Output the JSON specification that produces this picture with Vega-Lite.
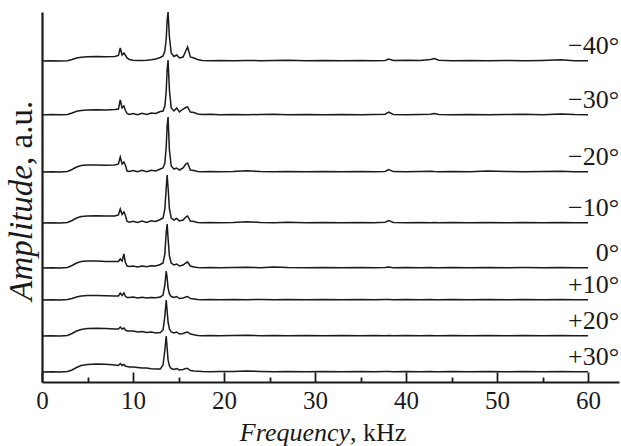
{
  "$schema": "https://vega.github.io/schema/vega-lite/v6.json",
  "width": 577,
  "height": 370,
  "autosize": "none",
  "padding": {"left": 42, "top": 12, "right": 2, "bottom": 64},
  "background": "white",
  "config": {"view": {"stroke": null}},
  "resolve": {"axis": {"x": "independent"}},
  "datasets": {
    "spectra": [
      {"s":"−40°","f":0,"v":321},{"s":"−40°","f":1,"v":321.3},{"s":"−40°","f":2,"v":321},{"s":"−40°","f":2.8,"v":321.3},{"s":"−40°","f":3.3,"v":322.5},{"s":"−40°","f":3.8,"v":324},{"s":"−40°","f":4.3,"v":324.8},{"s":"−40°","f":5,"v":325.2},{"s":"−40°","f":6,"v":325.5},{"s":"−40°","f":7,"v":325.3},{"s":"−40°","f":8,"v":325.5},{"s":"−40°","f":8.4,"v":326.5},{"s":"−40°","f":8.6,"v":334},{"s":"−40°","f":8.8,"v":327},{"s":"−40°","f":9,"v":329},{"s":"−40°","f":9.15,"v":327},{"s":"−40°","f":9.35,"v":324},{"s":"−40°","f":9.6,"v":322.5},{"s":"−40°","f":10,"v":321.8},{"s":"−40°","f":10.5,"v":321.5},{"s":"−40°","f":11,"v":321.6},{"s":"−40°","f":11.5,"v":321.8},{"s":"−40°","f":12,"v":322.2},{"s":"−40°","f":12.5,"v":323},{"s":"−40°","f":13,"v":324.5},{"s":"−40°","f":13.3,"v":326},{"s":"−40°","f":13.5,"v":331},{"s":"−40°","f":13.65,"v":343},{"s":"−40°","f":13.75,"v":361},{"s":"−40°","f":13.85,"v":370},{"s":"−40°","f":14,"v":345},{"s":"−40°","f":14.2,"v":329},{"s":"−40°","f":14.5,"v":325.5},{"s":"−40°","f":14.8,"v":327},{"s":"−40°","f":15.1,"v":324},{"s":"−40°","f":15.5,"v":325},{"s":"−40°","f":15.8,"v":331},{"s":"−40°","f":16,"v":335},{"s":"−40°","f":16.3,"v":325},{"s":"−40°","f":16.7,"v":324},{"s":"−40°","f":17.1,"v":322.5},{"s":"−40°","f":17.6,"v":321.6},{"s":"−40°","f":18.5,"v":321.3},{"s":"−40°","f":19.5,"v":321.5},{"s":"−40°","f":21,"v":321.2},{"s":"−40°","f":22.5,"v":321.6},{"s":"−40°","f":24,"v":321.3},{"s":"−40°","f":25.5,"v":321.5},{"s":"−40°","f":27,"v":321.8},{"s":"−40°","f":29,"v":321.3},{"s":"−40°","f":31,"v":321.6},{"s":"−40°","f":33,"v":321.2},{"s":"−40°","f":35,"v":321.5},{"s":"−40°","f":36.5,"v":321.3},{"s":"−40°","f":37.7,"v":321.6},{"s":"−40°","f":38.1,"v":323},{"s":"−40°","f":38.6,"v":321.5},{"s":"−40°","f":40,"v":321.8},{"s":"−40°","f":41.5,"v":321.4},{"s":"−40°","f":42.7,"v":322.5},{"s":"−40°","f":43.1,"v":323.5},{"s":"−40°","f":43.6,"v":321.8},{"s":"−40°","f":45,"v":321.3},{"s":"−40°","f":47,"v":321.6},{"s":"−40°","f":49,"v":321.2},{"s":"−40°","f":51,"v":321.5},{"s":"−40°","f":53,"v":321.3},{"s":"−40°","f":55,"v":321.6},{"s":"−40°","f":57,"v":322.2},{"s":"−40°","f":58.5,"v":321.3},{"s":"−40°","f":60,"v":321.2},

      {"s":"−30°","f":0,"v":267},{"s":"−30°","f":1,"v":267.4},{"s":"−30°","f":2,"v":267.2},{"s":"−30°","f":2.8,"v":267.5},{"s":"−30°","f":3.3,"v":269},{"s":"−30°","f":3.8,"v":270.8},{"s":"−30°","f":4.3,"v":271.5},{"s":"−30°","f":5,"v":272},{"s":"−30°","f":6,"v":272.2},{"s":"−30°","f":7,"v":272},{"s":"−30°","f":8,"v":272.5},{"s":"−30°","f":8.4,"v":273},{"s":"−30°","f":8.6,"v":282},{"s":"−30°","f":8.8,"v":274},{"s":"−30°","f":9,"v":276},{"s":"−30°","f":9.15,"v":272},{"s":"−30°","f":9.35,"v":268.5},{"s":"−30°","f":9.6,"v":267.5},{"s":"−30°","f":10,"v":268.5},{"s":"−30°","f":10.5,"v":267.3},{"s":"−30°","f":11,"v":268.8},{"s":"−30°","f":11.5,"v":267.6},{"s":"−30°","f":12,"v":269},{"s":"−30°","f":12.5,"v":268.5},{"s":"−30°","f":13,"v":270.5},{"s":"−30°","f":13.3,"v":271},{"s":"−30°","f":13.5,"v":276},{"s":"−30°","f":13.65,"v":291},{"s":"−30°","f":13.75,"v":312},{"s":"−30°","f":13.85,"v":322},{"s":"−30°","f":14,"v":292},{"s":"−30°","f":14.2,"v":274},{"s":"−30°","f":14.5,"v":271},{"s":"−30°","f":14.8,"v":274},{"s":"−30°","f":15.1,"v":270},{"s":"−30°","f":15.5,"v":273},{"s":"−30°","f":15.8,"v":274.5},{"s":"−30°","f":16,"v":275},{"s":"−30°","f":16.3,"v":270},{"s":"−30°","f":16.7,"v":269.5},{"s":"−30°","f":17.1,"v":268},{"s":"−30°","f":17.6,"v":267.5},{"s":"−30°","f":18.5,"v":267.8},{"s":"−30°","f":19.5,"v":267.3},{"s":"−30°","f":21,"v":267.6},{"s":"−30°","f":22.5,"v":267.2},{"s":"−30°","f":24,"v":267.5},{"s":"−30°","f":25.5,"v":267.8},{"s":"−30°","f":27,"v":267.3},{"s":"−30°","f":29,"v":267.6},{"s":"−30°","f":31,"v":267.2},{"s":"−30°","f":33,"v":267.5},{"s":"−30°","f":35,"v":267.3},{"s":"−30°","f":36.5,"v":267.6},{"s":"−30°","f":37.7,"v":267.8},{"s":"−30°","f":38.1,"v":270},{"s":"−30°","f":38.6,"v":267.6},{"s":"−30°","f":40,"v":267.3},{"s":"−30°","f":41.5,"v":267.6},{"s":"−30°","f":42.7,"v":267.8},{"s":"−30°","f":43.1,"v":268.5},{"s":"−30°","f":43.6,"v":267.5},{"s":"−30°","f":45,"v":267.3},{"s":"−30°","f":47,"v":267.6},{"s":"−30°","f":49,"v":267.3},{"s":"−30°","f":51,"v":267.5},{"s":"−30°","f":53,"v":267.8},{"s":"−30°","f":55,"v":267.3},{"s":"−30°","f":57,"v":268},{"s":"−30°","f":58.5,"v":267.4},{"s":"−30°","f":60,"v":267.2},

      {"s":"−20°","f":0,"v":210},{"s":"−20°","f":1,"v":210.3},{"s":"−20°","f":2,"v":210},{"s":"−20°","f":2.8,"v":210.6},{"s":"−20°","f":3.3,"v":212.5},{"s":"−20°","f":3.8,"v":215},{"s":"−20°","f":4.3,"v":216.5},{"s":"−20°","f":5,"v":217},{"s":"−20°","f":6,"v":217},{"s":"−20°","f":7,"v":216.8},{"s":"−20°","f":8,"v":217},{"s":"−20°","f":8.4,"v":218},{"s":"−20°","f":8.6,"v":225},{"s":"−20°","f":8.8,"v":218},{"s":"−20°","f":9,"v":220},{"s":"−20°","f":9.15,"v":217},{"s":"−20°","f":9.35,"v":211},{"s":"−20°","f":9.6,"v":210.5},{"s":"−20°","f":10,"v":211.5},{"s":"−20°","f":10.5,"v":210.2},{"s":"−20°","f":11,"v":211.6},{"s":"−20°","f":11.5,"v":210.3},{"s":"−20°","f":12,"v":211.8},{"s":"−20°","f":12.5,"v":211},{"s":"−20°","f":13,"v":213},{"s":"−20°","f":13.3,"v":214},{"s":"−20°","f":13.5,"v":219},{"s":"−20°","f":13.65,"v":235},{"s":"−20°","f":13.75,"v":256},{"s":"−20°","f":13.85,"v":265},{"s":"−20°","f":14,"v":232},{"s":"−20°","f":14.2,"v":216},{"s":"−20°","f":14.5,"v":213},{"s":"−20°","f":14.8,"v":214},{"s":"−20°","f":15.1,"v":212},{"s":"−20°","f":15.5,"v":214},{"s":"−20°","f":15.8,"v":218},{"s":"−20°","f":16,"v":219},{"s":"−20°","f":16.3,"v":212},{"s":"−20°","f":16.7,"v":211.5},{"s":"−20°","f":17.1,"v":210.5},{"s":"−20°","f":17.6,"v":210.3},{"s":"−20°","f":18.5,"v":210.6},{"s":"−20°","f":19.5,"v":210.2},{"s":"−20°","f":21,"v":210.5},{"s":"−20°","f":22.5,"v":211.2},{"s":"−20°","f":24,"v":210.4},{"s":"−20°","f":25.5,"v":210.3},{"s":"−20°","f":27,"v":210.6},{"s":"−20°","f":29,"v":210.2},{"s":"−20°","f":31,"v":210.5},{"s":"−20°","f":33,"v":210.3},{"s":"−20°","f":35,"v":210.6},{"s":"−20°","f":36.5,"v":210.2},{"s":"−20°","f":37.7,"v":210.6},{"s":"−20°","f":38.1,"v":212.5},{"s":"−20°","f":38.6,"v":210.4},{"s":"−20°","f":40,"v":210.2},{"s":"−20°","f":41.5,"v":210.5},{"s":"−20°","f":42.7,"v":210.8},{"s":"−20°","f":43.1,"v":210.5},{"s":"−20°","f":43.6,"v":210.3},{"s":"−20°","f":45,"v":210.6},{"s":"−20°","f":47,"v":210.2},{"s":"−20°","f":49,"v":211},{"s":"−20°","f":51,"v":210.4},{"s":"−20°","f":53,"v":210.3},{"s":"−20°","f":55,"v":210.5},{"s":"−20°","f":57,"v":210.8},{"s":"−20°","f":58.5,"v":210.3},{"s":"−20°","f":60,"v":210.2},

      {"s":"−10°","f":0,"v":159},{"s":"−10°","f":1,"v":159.3},{"s":"−10°","f":2,"v":159.1},{"s":"−10°","f":2.8,"v":159.6},{"s":"−10°","f":3.3,"v":161.5},{"s":"−10°","f":3.8,"v":164},{"s":"−10°","f":4.3,"v":165.5},{"s":"−10°","f":5,"v":166},{"s":"−10°","f":6,"v":166.2},{"s":"−10°","f":7,"v":166},{"s":"−10°","f":8,"v":166},{"s":"−10°","f":8.4,"v":167},{"s":"−10°","f":8.6,"v":173},{"s":"−10°","f":8.8,"v":167.5},{"s":"−10°","f":9,"v":170},{"s":"−10°","f":9.15,"v":167},{"s":"−10°","f":9.35,"v":160.5},{"s":"−10°","f":9.6,"v":159.8},{"s":"−10°","f":10,"v":160.8},{"s":"−10°","f":10.5,"v":159.5},{"s":"−10°","f":11,"v":161},{"s":"−10°","f":11.5,"v":159.6},{"s":"−10°","f":12,"v":161.2},{"s":"−10°","f":12.5,"v":160.5},{"s":"−10°","f":13,"v":162.5},{"s":"−10°","f":13.3,"v":164},{"s":"−10°","f":13.5,"v":173},{"s":"−10°","f":13.65,"v":194},{"s":"−10°","f":13.75,"v":207},{"s":"−10°","f":13.85,"v":195},{"s":"−10°","f":14,"v":173},{"s":"−10°","f":14.2,"v":164},{"s":"−10°","f":14.5,"v":162},{"s":"−10°","f":14.8,"v":163.5},{"s":"−10°","f":15.1,"v":161},{"s":"−10°","f":15.5,"v":162},{"s":"−10°","f":15.8,"v":165},{"s":"−10°","f":16,"v":166},{"s":"−10°","f":16.3,"v":161},{"s":"−10°","f":16.7,"v":160.5},{"s":"−10°","f":17.1,"v":159.5},{"s":"−10°","f":17.6,"v":159.3},{"s":"−10°","f":18.5,"v":159.6},{"s":"−10°","f":19.5,"v":159.3},{"s":"−10°","f":21,"v":159.5},{"s":"−10°","f":22.5,"v":160.3},{"s":"−10°","f":24,"v":159.5},{"s":"−10°","f":25.5,"v":159.3},{"s":"−10°","f":27,"v":159.8},{"s":"−10°","f":29,"v":159.3},{"s":"−10°","f":31,"v":159.5},{"s":"−10°","f":33,"v":159.2},{"s":"−10°","f":35,"v":159.6},{"s":"−10°","f":36.5,"v":159.3},{"s":"−10°","f":37.7,"v":159.8},{"s":"−10°","f":38.1,"v":161.5},{"s":"−10°","f":38.6,"v":159.5},{"s":"−10°","f":40,"v":159.3},{"s":"−10°","f":41.5,"v":159.6},{"s":"−10°","f":42.7,"v":159.3},{"s":"−10°","f":43.1,"v":159.5},{"s":"−10°","f":43.6,"v":159.2},{"s":"−10°","f":45,"v":159.6},{"s":"−10°","f":47,"v":159.3},{"s":"−10°","f":49,"v":159.5},{"s":"−10°","f":51,"v":159.2},{"s":"−10°","f":53,"v":159.5},{"s":"−10°","f":55,"v":159.3},{"s":"−10°","f":57,"v":159.6},{"s":"−10°","f":58.5,"v":159.2},{"s":"−10°","f":60,"v":159.2},

      {"s":"0°","f":0,"v":114},{"s":"0°","f":1,"v":114.3},{"s":"0°","f":2,"v":114},{"s":"0°","f":2.8,"v":114.5},{"s":"0°","f":3.3,"v":116.5},{"s":"0°","f":3.8,"v":119},{"s":"0°","f":4.3,"v":120.5},{"s":"0°","f":5,"v":121},{"s":"0°","f":6,"v":121},{"s":"0°","f":7,"v":120.5},{"s":"0°","f":8,"v":120.5},{"s":"0°","f":8.4,"v":120.5},{"s":"0°","f":8.6,"v":123},{"s":"0°","f":8.8,"v":121},{"s":"0°","f":9,"v":128},{"s":"0°","f":9.15,"v":120},{"s":"0°","f":9.35,"v":116},{"s":"0°","f":9.6,"v":115.5},{"s":"0°","f":10,"v":116},{"s":"0°","f":10.5,"v":115},{"s":"0°","f":11,"v":116},{"s":"0°","f":11.5,"v":115.2},{"s":"0°","f":12,"v":116.3},{"s":"0°","f":12.5,"v":116},{"s":"0°","f":13,"v":117.5},{"s":"0°","f":13.3,"v":119},{"s":"0°","f":13.5,"v":128},{"s":"0°","f":13.65,"v":150},{"s":"0°","f":13.75,"v":158},{"s":"0°","f":13.85,"v":144},{"s":"0°","f":14,"v":126},{"s":"0°","f":14.2,"v":119},{"s":"0°","f":14.5,"v":117},{"s":"0°","f":14.8,"v":118},{"s":"0°","f":15.1,"v":116},{"s":"0°","f":15.5,"v":117},{"s":"0°","f":15.8,"v":119},{"s":"0°","f":16,"v":120},{"s":"0°","f":16.3,"v":116},{"s":"0°","f":16.7,"v":115},{"s":"0°","f":17.1,"v":114.5},{"s":"0°","f":17.6,"v":114.3},{"s":"0°","f":18.5,"v":114.5},{"s":"0°","f":19.5,"v":114.2},{"s":"0°","f":21,"v":114.5},{"s":"0°","f":22.5,"v":114.8},{"s":"0°","f":24,"v":114.3},{"s":"0°","f":25.5,"v":115},{"s":"0°","f":27,"v":114.4},{"s":"0°","f":29,"v":114.2},{"s":"0°","f":31,"v":114.5},{"s":"0°","f":33,"v":114.3},{"s":"0°","f":35,"v":114.5},{"s":"0°","f":36.5,"v":114.2},{"s":"0°","f":37.7,"v":114.5},{"s":"0°","f":38.1,"v":115},{"s":"0°","f":38.6,"v":114.3},{"s":"0°","f":40,"v":114.5},{"s":"0°","f":41.5,"v":114.2},{"s":"0°","f":42.7,"v":114.5},{"s":"0°","f":43.1,"v":114.3},{"s":"0°","f":43.6,"v":114.2},{"s":"0°","f":45,"v":114.5},{"s":"0°","f":47,"v":114.3},{"s":"0°","f":49,"v":114.5},{"s":"0°","f":51,"v":114.2},{"s":"0°","f":53,"v":114.4},{"s":"0°","f":55,"v":114.3},{"s":"0°","f":57,"v":114.5},{"s":"0°","f":58.5,"v":114.2},{"s":"0°","f":60,"v":114.2},

      {"s":"+10°","f":0,"v":82},{"s":"+10°","f":1,"v":82.2},{"s":"+10°","f":2,"v":82},{"s":"+10°","f":2.8,"v":82.4},{"s":"+10°","f":3.3,"v":83.5},{"s":"+10°","f":3.8,"v":85},{"s":"+10°","f":4.3,"v":86},{"s":"+10°","f":5,"v":86.5},{"s":"+10°","f":6,"v":86.5},{"s":"+10°","f":7,"v":86.2},{"s":"+10°","f":8,"v":86},{"s":"+10°","f":8.4,"v":86},{"s":"+10°","f":8.6,"v":89},{"s":"+10°","f":8.8,"v":86.5},{"s":"+10°","f":9,"v":89},{"s":"+10°","f":9.15,"v":86},{"s":"+10°","f":9.35,"v":84.5},{"s":"+10°","f":9.6,"v":84.5},{"s":"+10°","f":10,"v":85},{"s":"+10°","f":10.5,"v":84},{"s":"+10°","f":11,"v":84.8},{"s":"+10°","f":11.5,"v":84},{"s":"+10°","f":12,"v":84.5},{"s":"+10°","f":12.5,"v":84.2},{"s":"+10°","f":13,"v":85},{"s":"+10°","f":13.3,"v":87},{"s":"+10°","f":13.5,"v":97},{"s":"+10°","f":13.65,"v":111},{"s":"+10°","f":13.75,"v":104},{"s":"+10°","f":13.85,"v":94},{"s":"+10°","f":14,"v":88},{"s":"+10°","f":14.2,"v":85.5},{"s":"+10°","f":14.5,"v":84.5},{"s":"+10°","f":14.8,"v":85.5},{"s":"+10°","f":15.1,"v":83.5},{"s":"+10°","f":15.5,"v":84},{"s":"+10°","f":15.8,"v":85},{"s":"+10°","f":16,"v":85.5},{"s":"+10°","f":16.3,"v":83.5},{"s":"+10°","f":16.7,"v":83},{"s":"+10°","f":17.1,"v":82.5},{"s":"+10°","f":17.6,"v":82.3},{"s":"+10°","f":18.5,"v":82.5},{"s":"+10°","f":19.5,"v":82.2},{"s":"+10°","f":21,"v":82.5},{"s":"+10°","f":22.5,"v":82.3},{"s":"+10°","f":24,"v":82.5},{"s":"+10°","f":25.5,"v":82.2},{"s":"+10°","f":27,"v":82.5},{"s":"+10°","f":29,"v":82.3},{"s":"+10°","f":31,"v":82.5},{"s":"+10°","f":33,"v":82.2},{"s":"+10°","f":35,"v":82.4},{"s":"+10°","f":36.5,"v":82.2},{"s":"+10°","f":37.7,"v":82.5},{"s":"+10°","f":38.1,"v":82.6},{"s":"+10°","f":38.6,"v":82.3},{"s":"+10°","f":40,"v":82.5},{"s":"+10°","f":41.5,"v":82.2},{"s":"+10°","f":42.7,"v":82.5},{"s":"+10°","f":43.1,"v":82.3},{"s":"+10°","f":43.6,"v":82.2},{"s":"+10°","f":45,"v":82.5},{"s":"+10°","f":47,"v":82.2},{"s":"+10°","f":49,"v":82.5},{"s":"+10°","f":51,"v":82.3},{"s":"+10°","f":53,"v":82.5},{"s":"+10°","f":55,"v":82.2},{"s":"+10°","f":57,"v":82.5},{"s":"+10°","f":58.5,"v":82.3},{"s":"+10°","f":60,"v":82.2},

      {"s":"+20°","f":0,"v":46},{"s":"+20°","f":1,"v":46.3},{"s":"+20°","f":2,"v":46},{"s":"+20°","f":2.8,"v":46.5},{"s":"+20°","f":3.3,"v":48.5},{"s":"+20°","f":3.8,"v":51},{"s":"+20°","f":4.3,"v":52.5},{"s":"+20°","f":5,"v":53.5},{"s":"+20°","f":6,"v":53.8},{"s":"+20°","f":7,"v":53.5},{"s":"+20°","f":8,"v":53},{"s":"+20°","f":8.4,"v":53},{"s":"+20°","f":8.6,"v":55},{"s":"+20°","f":8.8,"v":53},{"s":"+20°","f":9,"v":54},{"s":"+20°","f":9.15,"v":52},{"s":"+20°","f":9.35,"v":51},{"s":"+20°","f":9.6,"v":51},{"s":"+20°","f":10,"v":51},{"s":"+20°","f":10.5,"v":50},{"s":"+20°","f":11,"v":50.5},{"s":"+20°","f":11.5,"v":49.5},{"s":"+20°","f":12,"v":50},{"s":"+20°","f":12.5,"v":49},{"s":"+20°","f":13,"v":49.5},{"s":"+20°","f":13.3,"v":52},{"s":"+20°","f":13.5,"v":66},{"s":"+20°","f":13.65,"v":82},{"s":"+20°","f":13.75,"v":71},{"s":"+20°","f":13.85,"v":60},{"s":"+20°","f":14,"v":53},{"s":"+20°","f":14.2,"v":50},{"s":"+20°","f":14.5,"v":49},{"s":"+20°","f":14.8,"v":50},{"s":"+20°","f":15.1,"v":48},{"s":"+20°","f":15.5,"v":48.5},{"s":"+20°","f":15.8,"v":49.5},{"s":"+20°","f":16,"v":50},{"s":"+20°","f":16.3,"v":48},{"s":"+20°","f":16.7,"v":47.2},{"s":"+20°","f":17.1,"v":46.6},{"s":"+20°","f":17.6,"v":46.3},{"s":"+20°","f":18.5,"v":46.5},{"s":"+20°","f":19.5,"v":46.2},{"s":"+20°","f":21,"v":46.5},{"s":"+20°","f":22.5,"v":46.8},{"s":"+20°","f":24,"v":46.3},{"s":"+20°","f":25.5,"v":46.5},{"s":"+20°","f":27,"v":46.2},{"s":"+20°","f":29,"v":46.5},{"s":"+20°","f":31,"v":46.3},{"s":"+20°","f":33,"v":46.5},{"s":"+20°","f":35,"v":46.2},{"s":"+20°","f":36.5,"v":46.4},{"s":"+20°","f":37.7,"v":46.3},{"s":"+20°","f":38.1,"v":46.6},{"s":"+20°","f":38.6,"v":46.3},{"s":"+20°","f":40,"v":46.5},{"s":"+20°","f":41.5,"v":46.2},{"s":"+20°","f":42.7,"v":46.5},{"s":"+20°","f":43.1,"v":46.3},{"s":"+20°","f":43.6,"v":46.2},{"s":"+20°","f":45,"v":46.5},{"s":"+20°","f":47,"v":46.3},{"s":"+20°","f":49,"v":46.5},{"s":"+20°","f":51,"v":46.2},{"s":"+20°","f":53,"v":46.5},{"s":"+20°","f":55,"v":46.3},{"s":"+20°","f":57,"v":46.6},{"s":"+20°","f":58.5,"v":46.2},{"s":"+20°","f":60,"v":46.2},

      {"s":"+30°","f":0,"v":10},{"s":"+30°","f":1,"v":10.3},{"s":"+30°","f":2,"v":10},{"s":"+30°","f":2.8,"v":10.5},{"s":"+30°","f":3.3,"v":12},{"s":"+30°","f":3.8,"v":14.5},{"s":"+30°","f":4.3,"v":16.5},{"s":"+30°","f":5,"v":17.5},{"s":"+30°","f":6,"v":18},{"s":"+30°","f":7,"v":17.8},{"s":"+30°","f":8,"v":17},{"s":"+30°","f":8.4,"v":16.5},{"s":"+30°","f":8.6,"v":18.5},{"s":"+30°","f":8.8,"v":16.5},{"s":"+30°","f":9,"v":17.5},{"s":"+30°","f":9.15,"v":16},{"s":"+30°","f":9.35,"v":15.5},{"s":"+30°","f":9.6,"v":15},{"s":"+30°","f":10,"v":15},{"s":"+30°","f":10.5,"v":14.5},{"s":"+30°","f":11,"v":14},{"s":"+30°","f":11.5,"v":14},{"s":"+30°","f":12,"v":13.2},{"s":"+30°","f":12.5,"v":13},{"s":"+30°","f":13,"v":13},{"s":"+30°","f":13.3,"v":17},{"s":"+30°","f":13.5,"v":32},{"s":"+30°","f":13.65,"v":46},{"s":"+30°","f":13.75,"v":34},{"s":"+30°","f":13.85,"v":22},{"s":"+30°","f":14,"v":16},{"s":"+30°","f":14.2,"v":13.5},{"s":"+30°","f":14.5,"v":12.5},{"s":"+30°","f":14.8,"v":13.5},{"s":"+30°","f":15.1,"v":12},{"s":"+30°","f":15.5,"v":12.5},{"s":"+30°","f":15.8,"v":13.5},{"s":"+30°","f":16,"v":13.5},{"s":"+30°","f":16.3,"v":11.5},{"s":"+30°","f":16.7,"v":11},{"s":"+30°","f":17.1,"v":10.8},{"s":"+30°","f":17.6,"v":10.5},{"s":"+30°","f":18.5,"v":10.3},{"s":"+30°","f":19.5,"v":10.5},{"s":"+30°","f":21,"v":10.6},{"s":"+30°","f":22.5,"v":11},{"s":"+30°","f":24,"v":10.5},{"s":"+30°","f":25.5,"v":10.3},{"s":"+30°","f":27,"v":10.5},{"s":"+30°","f":29,"v":10.2},{"s":"+30°","f":31,"v":10.5},{"s":"+30°","f":33,"v":10.3},{"s":"+30°","f":35,"v":10.5},{"s":"+30°","f":36.5,"v":10.2},{"s":"+30°","f":37.7,"v":10.5},{"s":"+30°","f":38.1,"v":10.6},{"s":"+30°","f":38.6,"v":10.3},{"s":"+30°","f":40,"v":10.5},{"s":"+30°","f":41.5,"v":10.2},{"s":"+30°","f":42.7,"v":10.5},{"s":"+30°","f":43.1,"v":10.3},{"s":"+30°","f":43.6,"v":10.2},{"s":"+30°","f":45,"v":10.5},{"s":"+30°","f":47,"v":10.3},{"s":"+30°","f":49,"v":10.5},{"s":"+30°","f":51,"v":10.2},{"s":"+30°","f":53,"v":10.5},{"s":"+30°","f":55,"v":10.3},{"s":"+30°","f":57,"v":10.6},{"s":"+30°","f":58.5,"v":10.2},{"s":"+30°","f":60,"v":10.2}
    ]
  },
  "layer": [
    {
      "data": {"name": "spectra"},
      "mark": {"type": "line", "stroke": "#1a1a1a", "strokeWidth": 1.5, "interpolate": "linear"},
      "encoding": {
        "x": {
          "field": "f", "type": "quantitative",
          "scale": {"domain": [0, 63.4], "nice": false, "zero": false},
          "axis": {
            "orient": "bottom",
            "title": null,
            "values": [0, 10, 20, 30, 40, 50, 60],
            "tickSize": -10,
            "tickWidth": 1.8, "tickColor": "#1a1a1a",
            "domainWidth": 2.2, "domainColor": "#1a1a1a",
            "grid": false,
            "labelFont": "Liberation Serif", "labelFontSize": 25, "labelColor": "#1a1a1a",
            "labelPadding": 16, "labelFlush": false, "labelOverlap": false
          }
        },
        "y": {
          "field": "v", "type": "quantitative",
          "scale": {"domain": [0, 370], "nice": false, "zero": false},
          "axis": {"title": null, "labels": false, "ticks": false, "grid": false, "domainWidth": 2.2, "domainColor": "#1a1a1a"}
        },
        "detail": {"field": "s", "type": "nominal"}
      }
    },
    {
      "data": {"name": "spectra"},
      "transform": [{"filter": "datum.f == 60"}],
      "mark": {"type": "text", "align": "right", "baseline": "alphabetic", "dx": 31, "dy": -7, "font": "Liberation Serif", "fontSize": 26, "color": "#1a1a1a"},
      "encoding": {
        "x": {
          "field": "f", "type": "quantitative",
          "axis": {
            "orient": "bottom", "title": null, "labels": false, "domain": false, "grid": false,
            "values": [5, 15, 25, 35, 45, 55],
            "tickSize": -5, "tickWidth": 1.8, "tickColor": "#1a1a1a"
          }
        },
        "y": {"field": "v", "type": "quantitative"},
        "text": {"field": "s", "type": "nominal"}
      }
    },
    {
      "data": {"values": [{}]},
      "mark": {"type": "text", "align": "right", "baseline": "alphabetic", "font": "Liberation Serif", "fontStyle": "italic", "fontSize": 26, "color": "#1a1a1a", "text": "Frequency"},
      "encoding": {
        "x": {"datum": 33.85, "type": "quantitative", "axis": null},
        "y": {"datum": -59, "type": "quantitative"}
      }
    },
    {
      "data": {"values": [{}]},
      "mark": {"type": "text", "align": "left", "baseline": "alphabetic", "font": "Liberation Serif", "fontSize": 26, "color": "#1a1a1a", "text": ", kHz"},
      "encoding": {
        "x": {"datum": 33.85, "type": "quantitative", "axis": null},
        "y": {"datum": -59, "type": "quantitative"}
      }
    },
    {
      "data": {"values": [{}]},
      "mark": {"type": "text", "align": "right", "baseline": "alphabetic", "angle": 270, "font": "Liberation Serif", "fontStyle": "italic", "fontSize": 33, "color": "#1a1a1a", "text": "Amplitude"},
      "encoding": {
        "x": {"datum": -1.1, "type": "quantitative", "axis": null},
        "y": {"datum": 217, "type": "quantitative"}
      }
    },
    {
      "data": {"values": [{}]},
      "mark": {"type": "text", "align": "left", "baseline": "alphabetic", "angle": 270, "font": "Liberation Serif", "fontSize": 33, "color": "#1a1a1a", "text": ", a.u."},
      "encoding": {
        "x": {"datum": -1.1, "type": "quantitative", "axis": null},
        "y": {"datum": 217, "type": "quantitative"}
      }
    }
  ]
}
